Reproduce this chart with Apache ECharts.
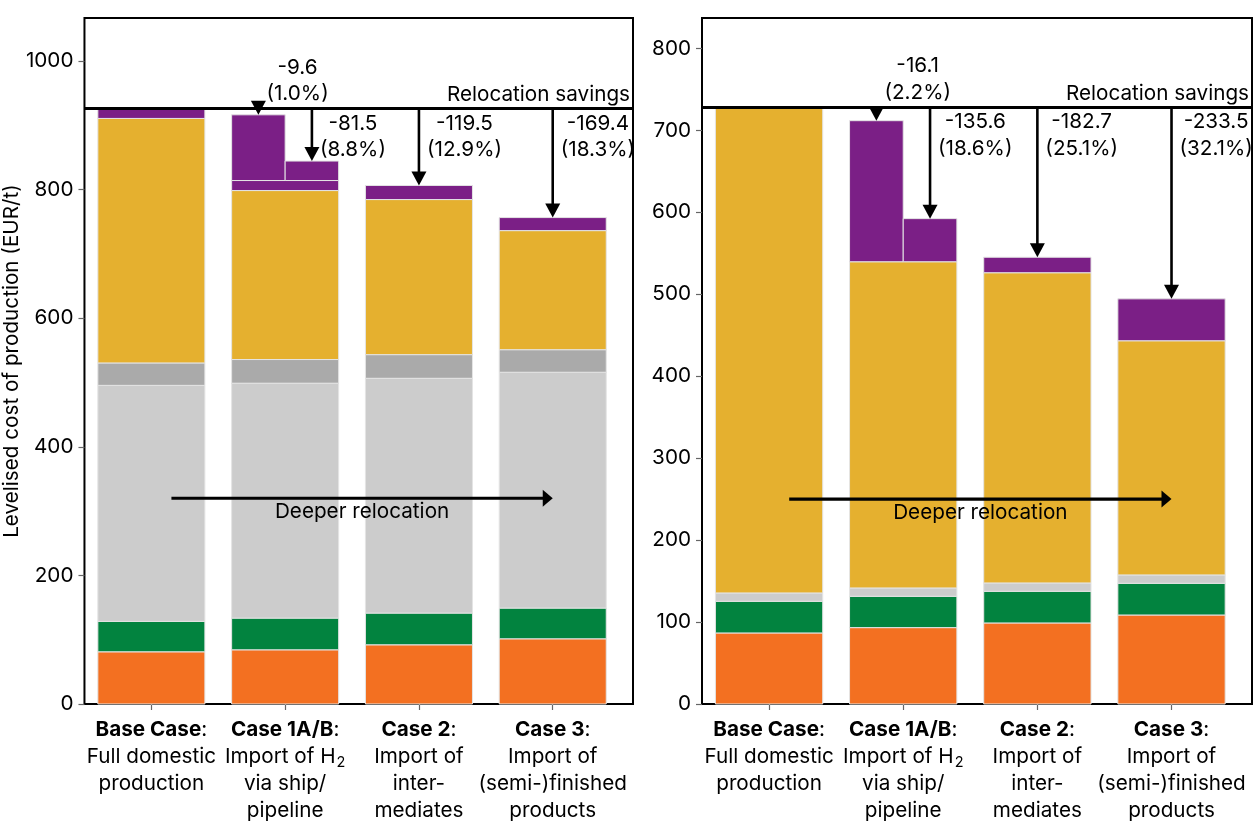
<!DOCTYPE html>
<html><head><meta charset="utf-8">
<script src="https://cdn.jsdelivr.net/npm/echarts@6/dist/echarts.min.js"></script>
<style>html,body{margin:0;padding:0;background:#fff}#c{width:1260px;height:840px}</style>
</head><body><div id="c"></div>
<script>
// ---------------- data ----------------
const categories = ['Base Case', 'Case 1A/B', 'Case 2', 'Case 3'];
const categoryDescriptions = [
  ['Full domestic', 'production'],
  ['Import of H₂', 'via ship/', 'pipeline'],
  ['Import of', 'inter-', 'mediates'],
  ['Import of', '(semi-)finished', 'products']
];
const casePositions = [0, 1, 2, 3];

const yTicksLeft = [0, 200, 400, 600, 800, 1000];
const yTicksRight = [0, 100, 200, 300, 400, 500, 600, 700, 800];
const yAxisName = 'Levelised cost of production (EUR/t)';
const relocationLabel = 'Relocation savings';
const deeperLabel = 'Deeper relocation';

// Left panel: stacked cost components (EUR/t), bottom to top
const leftOrange = [81.2, 84.3, 92.1, 101.4];
const leftGreen = [47.3, 49.3, 49.3, 47.8];
const leftLightGrey = [367.1, 365.4, 365.2, 366.8];
const leftDarkGrey = [34.9, 36.8, 36.8, 35.1];
const leftYellow = [380.3, 262.8, 241.2, 185.2];
const leftPurple = [15.2, 15.6, 21.9, 20.3];
const leftPurpleCase1AB = [102.2, 30.3];        // Case 1A (ship), Case 1B (pipeline)
const leftSavings = [-9.6, -81.5, -119.5, -169.4];
const leftSavingsPct = ['1.0%', '8.8%', '12.9%', '18.3%'];

// Right panel
const rightOrange = [86.7, 93.2, 98.9, 108.6];
const rightGreen = [38.6, 38.2, 38.6, 38.7];
const rightLightGrey = [10.2, 10.2, 10.2, 10.2];
const rightDarkGrey = [0, 0, 0, 0];
const rightYellow = [592.3, 398.0, 378.5, 285.7];
const rightPurple = [0, 0, 18.9, 51.1];
const rightPurpleCase1AB = [172.1, 52.6];
const rightSavings = [-16.1, -135.6, -182.7, -233.5];
const rightSavingsPct = ['2.2%', '18.6%', '25.1%', '32.1%'];

// ---------------- styling / layout ----------------
const FONT = 'Inter';
const FS = 20.7;
const colors = ['#F37021', '#02833F', '#CCCCCC', '#AAAAAA', '#E5B02F', '#7B1F86'];
const edge = '#e4e4e4';
const BAR_FRAC = 0.8;

const measureCtx = document.createElement('canvas').getContext('2d');
measureCtx.font = FS + 'px ' + FONT;
function textW(s) { return measureCtx.measureText(s).width; }

const chart = echarts.init(document.getElementById('c'), null, {renderer: 'canvas'});

const grids = [], xAxes = [], yAxes = [], series = [];

function catLabel(v) {
  const i = Math.round(v);
  const lines = categoryDescriptions[i].map(l => l.replace('₂', '{sub|2}'));
  return '{b|' + categories[i] + '}:\n' + lines.join('\n');
}

function buildPanel(gi, cfg) {
  grids.push({left: cfg.left, top: 18, width: 550, height: 686, show: true,
    borderColor: '#000', borderWidth: 2, backgroundColor: 'transparent'});
  xAxes.push({type: 'value', gridIndex: gi, min: -0.5, max: 3.6,
    axisLine: {show: false, onZero: false}, splitLine: {show: false},
    axisTick: {show: true, customValues: casePositions, length: 6, lineStyle: {color: '#666', width: 1.2}},
    axisLabel: {show: true, customValues: casePositions, margin: 12, color: '#000',
      fontSize: FS, lineHeight: 27, fontFamily: FONT, formatter: catLabel,
      rich: {
        b: {fontWeight: 'bold', fontSize: FS, lineHeight: 27, fontFamily: FONT, color: '#000'},
        sub: {fontSize: 14.5, lineHeight: 14, verticalAlign: 'bottom', fontFamily: FONT, color: '#000', padding: [0, 0, 0, 1]}
      }}
  });
  yAxes.push({type: 'value', gridIndex: gi, min: 0, max: cfg.yMax,
    name: cfg.withName ? yAxisName : '', nameLocation: 'middle', nameGap: 58,
    nameTextStyle: {fontSize: FS, color: '#000', fontFamily: FONT},
    axisLine: {show: false, onZero: false}, splitLine: {show: false},
    axisTick: {show: true, customValues: cfg.yTicks, length: 6, lineStyle: {color: '#666', width: 1.2}},
    axisLabel: {customValues: cfg.yTicks, fontSize: FS, color: '#000', margin: 11, fontFamily: FONT,
      formatter: v => String(Math.round(v))}
  });

  // stacked segments: [x, bottom, top, componentIndex, side(0 full, -1 left half, 1 right half)]
  const comps = cfg.comps;
  const segs = [];
  const tops = casePositions.map((x, i) => {
    let acc = 0;
    comps.forEach((arr, k) => {
      if (arr[i] > 0) segs.push([x, acc, acc + arr[i], k, 0]);
      acc += arr[i];
    });
    return acc;
  });
  const c1 = casePositions[1];
  cfg.split.forEach((v, j) => segs.push([c1, tops[1], tops[1] + v, 5, j === 0 ? -1 : 1]));

  series.push({type: 'custom', xAxisIndex: gi, yAxisIndex: gi, silent: true, z: 2,
    data: segs,
    renderItem: function (params, api) {
      const x = api.value(0), y0 = api.value(1), y1 = api.value(2), k = api.value(3), side = api.value(4);
      const half = BAR_FRAC / 2;
      const xl = side > 0 ? x : x - half;
      const xr = side < 0 ? x : x + half;
      const pa = api.coord([xl, y1]);
      const pb = api.coord([xr, y0]);
      return {type: 'rect', shape: {x: pa[0], y: pa[1], width: pb[0] - pa[0], height: pb[1] - pa[1]},
        style: {fill: colors[k], stroke: edge, lineWidth: 1}};
    }
  });

  const baseTotal = tops[0];

  // savings arrows + labels
  const quarter = BAR_FRAC / 4;
  const arrowX = [c1 - quarter, c1 + quarter, casePositions[2], casePositions[3]];
  const arrowTo = [tops[1] + cfg.split[0], tops[1] + cfg.split[1], tops[2], tops[3]];
  series.push({type: 'custom', xAxisIndex: gi, yAxisIndex: gi, silent: true, z: 6,
    data: arrowX.map((x, i) => [x, baseTotal, arrowTo[i]]),
    renderItem: function (params, api) {
      const i = params.dataIndex;
      const p0 = api.coord([api.value(0), api.value(1)]);
      const p1 = api.coord([api.value(0), api.value(2)]);
      const headL = 14, headW = 15;
      const children = [];
      if (p1[1] - headL > p0[1]) {
        children.push({type: 'line', shape: {x1: p0[0], y1: p0[1], x2: p1[0], y2: p1[1] - headL + 1},
          style: {stroke: '#000', lineWidth: 2.6}});
      }
      children.push({type: 'polygon', shape: {points: [[p1[0] - headW / 2, p1[1] - headL], [p1[0] + headW / 2, p1[1] - headL], [p1[0], p1[1]]]},
        style: {fill: '#000'}});
      const l1 = cfg.savings[i].toFixed(1), l2 = '(' + cfg.pct[i] + ')';
      const w = Math.max(textW(l1), textW(l2));
      const above = i === 0;
      children.push({type: 'text', x: p0[0] + 8 + w / 2, y: above ? p0[1] - 1.5 : p0[1] + 1.5,
        style: {text: l1 + '\n' + l2, fill: '#000', font: FS + 'px ' + FONT, lineHeight: 26.5,
          align: 'center', verticalAlign: above ? 'bottom' : 'top'}});
      return {type: 'group', children: children};
    },
    markLine: {silent: true, symbol: 'none', animation: false,
      lineStyle: {color: '#000', width: 3, type: 'solid'},
      label: {show: true, position: 'insideEndTop', formatter: relocationLabel, color: '#000',
        fontSize: FS, fontFamily: FONT, distance: [3, 3]},
      data: [{yAxis: baseTotal}]}
  });

  // "Deeper relocation" arrow
  series.push({type: 'custom', xAxisIndex: gi, yAxisIndex: gi, silent: true, z: 6,
    data: [[0.15, 3.0, cfg.deeperY]],
    renderItem: function (params, api) {
      const p0 = api.coord([api.value(0), api.value(2)]);
      const p1 = api.coord([api.value(1), api.value(2)]);
      const headL = 10, headW = 17;
      return {type: 'group', children: [
        {type: 'line', shape: {x1: p0[0], y1: p0[1], x2: p1[0] - headL + 1, y2: p1[1]}, style: {stroke: '#000', lineWidth: 3.2}},
        {type: 'polygon', shape: {points: [[p1[0] - headL, p1[1] - headW / 2], [p1[0] - headL, p1[1] + headW / 2], [p1[0], p1[1]]]}, style: {fill: '#000'}},
        {type: 'text', x: (p0[0] + p1[0]) / 2, y: p0[1] + 2,
          style: {text: deeperLabel, fill: '#000', font: FS + 'px ' + FONT, lineHeight: 24, align: 'center', verticalAlign: 'top'}}
      ]};
    }
  });
}

buildPanel(0, {left: 83, yMax: 1067, yTicks: yTicksLeft, withName: true, deeperY: 320,
  comps: [leftOrange, leftGreen, leftLightGrey, leftDarkGrey, leftYellow, leftPurple],
  split: leftPurpleCase1AB, savings: leftSavings, pct: leftSavingsPct});
buildPanel(1, {left: 702, yMax: 837, yTicks: yTicksRight, withName: false, deeperY: 250,
  comps: [rightOrange, rightGreen, rightLightGrey, rightDarkGrey, rightYellow, rightPurple],
  split: rightPurpleCase1AB, savings: rightSavings, pct: rightSavingsPct});

chart.setOption({
  animation: false,
  backgroundColor: '#fff',
  textStyle: {fontFamily: FONT},
  grid: grids, xAxis: xAxes, yAxis: yAxes, series: series
});
</script></body></html>
